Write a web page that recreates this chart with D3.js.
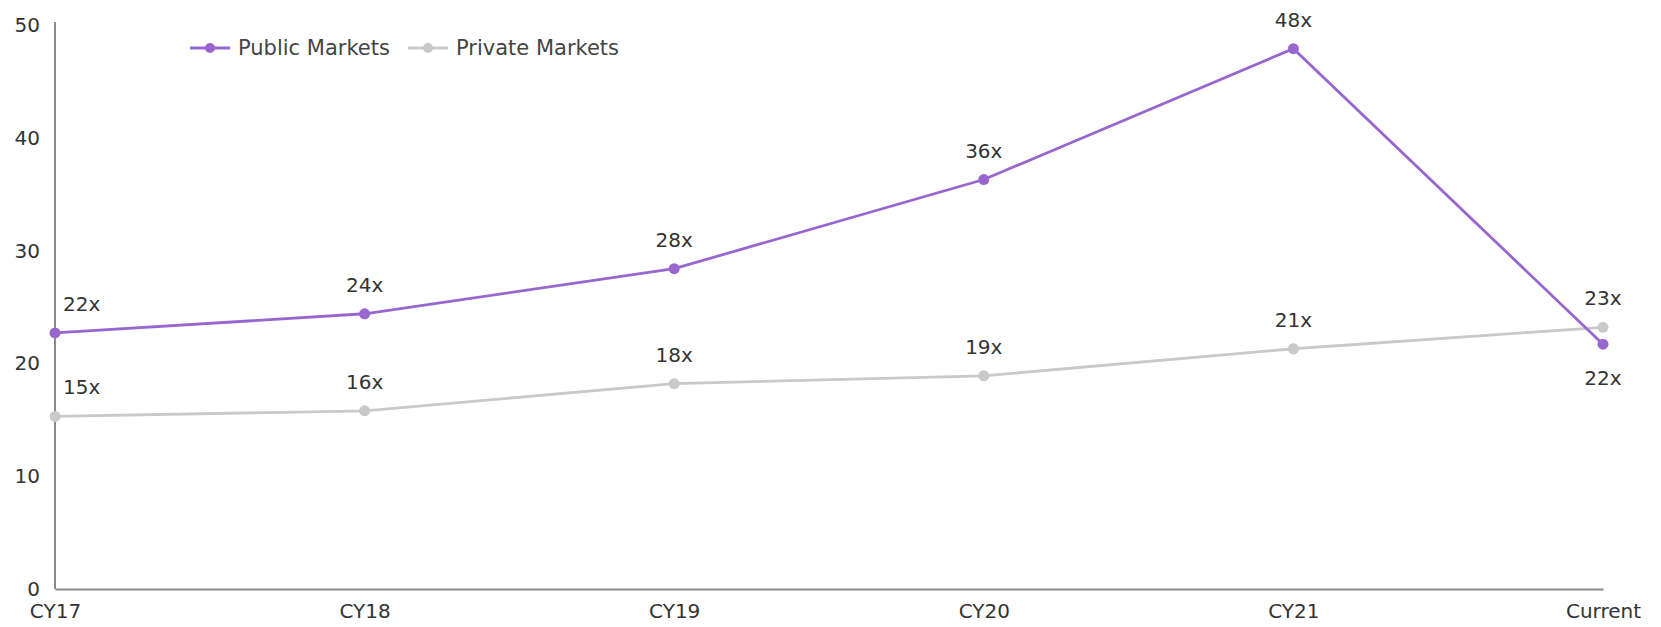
<!DOCTYPE html>
<html>
<head>
<meta charset="utf-8">
<script src="https://cdn.jsdelivr.net/npm/d3@7"></script>
<style>
  html, body { margin: 0; padding: 0; background: #fff; }
  svg text { font-family: "DejaVu Sans", Verdana, sans-serif; }
</style>
</head>
<body>
<svg id="chart" width="1661" height="627"></svg>
<script>
const categories = ["CY17", "CY18", "CY19", "CY20", "CY21", "Current"];
const publicValues = [22.7, 24.4, 28.4, 36.3, 47.9, 21.7];
const privateValues = [15.3, 15.8, 18.2, 18.9, 21.3, 23.2];
const publicLabels = ["22x", "24x", "28x", "36x", "48x", "22x"];
const privateLabels = ["15x", "16x", "18x", "19x", "21x", "23x"];
const yTicks = [0, 10, 20, 30, 40, 50];
const seriesNames = ["Public Markets", "Private Markets"];

const colors = { pub: "#9966D0", priv: "#C9C9C9" };
const svg = d3.select("#chart");
const margin = { left: 55, right: 58, top: 25, bottom: 38 };
const W = 1661, H = 627;

const x = d3.scalePoint().domain(categories).range([margin.left, W - margin.right]);
const y = d3.scaleLinear().domain([0, 50]).range([H - margin.bottom, margin.top]);

// axes
const yAxis = svg.append("g").attr("transform", `translate(${margin.left},0)`)
  .call(d3.axisLeft(y).tickValues(yTicks).tickSize(0).tickPadding(15));
yAxis.select(".domain").attr("stroke", "#8a8a8a").attr("stroke-width", 2)
  .attr("d", `M0,${y(0)}V${y(50) - 3}`);
yAxis.selectAll("text").attr("font-size", 20).attr("fill", "#333");

const xAxis = svg.append("g").attr("transform", `translate(0,${y(0)})`)
  .call(d3.axisBottom(x).tickSize(0).tickPadding(15));
xAxis.select(".domain").attr("stroke", "#8a8a8a").attr("stroke-width", 2);
xAxis.selectAll("text").attr("font-size", 20).attr("fill", "#333");

const line = d3.line().x((d, i) => x(categories[i])).y(d => y(d));

function drawSeries(values, labels, color, belowIdx) {
  svg.append("path").datum(values).attr("d", line)
    .attr("fill", "none").attr("stroke", color).attr("stroke-width", 2.8);
  svg.selectAll(null).data(values).enter().append("circle")
    .attr("cx", (d, i) => x(categories[i])).attr("cy", d => y(d))
    .attr("r", 5.5).attr("fill", color);
  svg.selectAll(null).data(values).enter().append("text")
    .attr("x", (d, i) => x(categories[i]) + (i === 0 ? 8 : 0))
    .attr("y", (d, i) => y(d) + (belowIdx.includes(i) ? 34 : -29))
    .attr("text-anchor", (d, i) => i === 0 ? "start" : "middle")
    .attr("dominant-baseline", "central")
    .attr("font-size", 20).attr("fill", "#333")
    .text((d, i) => labels[i]);
}
drawSeries(privateValues, privateLabels, colors.priv, []);
drawSeries(publicValues, publicLabels, colors.pub, [5]);

// legend
const legend = [
  { name: seriesNames[0], color: colors.pub, x: 190 },
  { name: seriesNames[1], color: colors.priv, x: 408 }
];
const lg = svg.append("g");
legend.forEach(l => {
  lg.append("line").attr("x1", l.x).attr("x2", l.x + 40).attr("y1", 48).attr("y2", 48)
    .attr("stroke", l.color).attr("stroke-width", 2.8);
  lg.append("circle").attr("cx", l.x + 20).attr("cy", 48).attr("r", 5).attr("fill", l.color);
  lg.append("text").attr("x", l.x + 48).attr("y", 48).attr("dominant-baseline", "central")
    .attr("font-size", 21).attr("fill", "#444").text(l.name);
});
</script>
</body>
</html>
